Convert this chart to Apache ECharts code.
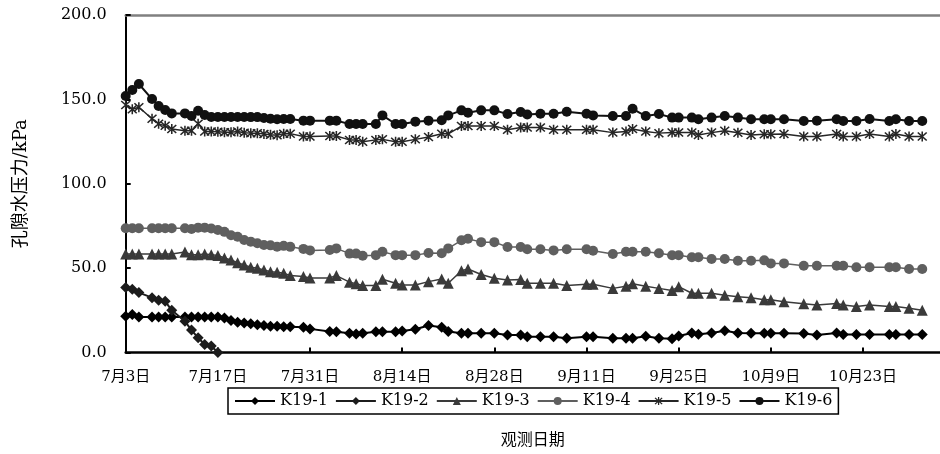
<!DOCTYPE html>
<html><head><meta charset="utf-8">
<script src="https://cdn.jsdelivr.net/npm/echarts@6/dist/echarts.min.js"></script>
<style>html,body{margin:0;padding:0;background:#fff}#c{width:940px;height:454px}</style>
</head><body><div id="c"></div>
<script>
// observation days, counted from 7月3日
const days = [0,1,2,4,5,6,7,
  9,10,11,12,13,14,15,16,17,18,19,20,21,22,23,24,25,
  27,28,31,32,34,35,36,38,39,41,42,44,46,48,49,51,52,54,56,58,60,61,63,65,67,70,71,74,
  76,77,79,81,83,84,86,87,89,91,93,95,97,98,100,103,105,108,109,111,113,116,117,119,121];
const xTickLabels = ['7月3日','7月17日','7月31日','8月14日','8月28日','9月11日','9月25日','10月9日','10月23日'];
const yTickLabels = ['0.0','50.0','100.0','150.0','200.0'];
const seriesNames = ['K19-1','K19-2','K19-3','K19-4','K19-5','K19-6'];

const k19_1 = [21.5,22.5,21.0,21.0,21.0,21.0,21.0,
  21.0,21.0,21.0,21.0,21.0,21.0,20.5,19.0,18.0,17.5,17.0,16.5,16.0,15.5,15.5,15.3,15.2,
  15.0,14.0,12.5,12.3,11.4,11.0,11.4,12.3,12.3,12.3,12.8,13.8,16.0,14.9,12.5,11.4,11.4,11.4,11.4,10.4,10.4,9.4,9.4,9.4,8.4,9.4,9.4,8.4,
  8.4,8.4,9.6,8.4,8.2,9.8,11.5,10.8,11.5,12.9,11.5,11.4,11.4,11.4,11.4,11.2,10.4,11.5,10.6,10.6,10.6,10.6,10.6,10.6,10.6];
const k19_2 = [38.5,37.5,35.5,32.5,31.0,30.3,25.0,
  18.5,13.3,8.7,4.7,3.8,0.0];
const k19_3 = [58.4,58.4,58.4,58.4,58.4,58.4,58.4,
  59.5,58.0,58.0,58.4,58.0,57.5,56.0,54.8,53.2,51.9,50.5,49.9,48.9,47.9,47.5,46.9,45.6,
  45.0,44.2,44.2,45.6,41.7,40.8,39.7,39.7,43.4,41.0,40.0,40.0,42.0,43.5,41.0,48.4,49.5,46.2,44.0,43.0,43.2,41.0,41.0,41.0,39.7,40.5,40.5,38.0,
  39.2,40.8,39.2,38.0,36.8,39.0,35.1,35.1,35.1,33.9,33.1,32.4,31.3,31.2,30.1,28.9,28.1,29.1,28.1,27.2,28.1,27.2,27.2,26.2,25.0];
const k19_4 = [73.6,73.6,73.6,73.6,73.6,73.6,73.6,
  73.6,73.2,74.0,74.0,73.5,72.6,71.5,69.5,68.6,66.7,65.7,64.7,63.7,63.5,62.7,63.2,62.6,
  61.4,60.5,60.7,61.7,58.6,58.6,57.3,57.7,59.7,57.7,57.7,57.7,59.0,58.8,61.7,66.5,67.4,65.4,65.4,62.5,62.5,61.2,61.2,60.5,61.2,61.2,60.3,58.4,
  59.7,59.7,59.7,58.8,57.6,57.6,56.4,56.4,55.4,55.4,54.4,54.4,54.6,52.8,52.8,51.4,51.4,51.4,51.4,50.5,50.5,50.5,50.5,49.5,49.5];
const k19_5 = [146.7,144.1,145.3,138.5,135.5,134.3,132.5,
  131.4,131.4,135.5,131.0,131.0,130.8,130.5,130.5,131.0,130.2,130.0,130.0,129.5,129.0,128.8,129.7,129.7,
  128.0,128.0,128.3,128.3,126.0,126.0,124.9,126.0,126.3,124.9,124.9,126.3,127.7,129.6,129.6,134.2,134.2,134.2,134.2,132.0,133.4,133.4,133.4,132.0,132.0,132.0,132.0,130.3,
  131.0,132.5,130.9,130.0,130.3,130.3,130.3,128.9,130.3,131.4,130.2,128.9,129.4,129.4,129.5,128.0,128.0,129.5,128.0,128.0,129.5,128.0,129.5,128.0,128.0];
const k19_6 = [152.0,155.6,159.1,150.2,146.1,143.7,141.7,
  141.7,140.1,143.3,140.7,139.6,139.6,139.6,139.6,139.6,139.6,139.5,139.5,139.0,138.5,138.2,138.4,138.4,
  137.4,137.4,137.4,137.4,135.4,135.4,135.4,135.4,140.5,135.4,135.4,136.8,137.4,137.6,140.5,143.5,142.1,143.5,143.5,141.3,142.5,141.0,141.5,141.5,142.7,141.5,140.5,140.1,
  140.1,144.4,140.1,141.3,139.2,139.2,139.2,138.2,139.2,140.2,139.2,138.2,138.2,138.2,138.2,137.2,137.4,138.2,137.2,137.2,138.4,137.2,138.2,137.2,137.2];

const allValues = [k19_1,k19_2,k19_3,k19_4,k19_5,k19_6];
const pair = vals => vals.map((v,i) => [days[i], v]);

const starPath = 'path://M43 0L57 0L57 100L43 100Z M5 15L15 5L95 85L85 95Z M85 5L95 15L15 95L5 85Z';
const styles = [
  {symbol:'diamond', size:11, color:'#000000', lw:2},
  {symbol:'diamond', size:11, color:'#1c1c1c', lw:2},
  {symbol:'triangle', size:11, color:'#3a3a3a', lw:1.5},
  {symbol:'circle', size:10, color:'#5f5f5f', lw:1.5},
  {symbol:starPath, size:10, color:'#262626', lw:1.5},
  {symbol:'circle', size:10, color:'#111111', lw:2}
];

const FONT = '"DejaVu Serif", "Noto Sans CJK SC", serif';
const chart = echarts.init(document.getElementById('c'), null, {renderer:'canvas'});
chart.setOption({
  animation:false,
  backgroundColor:'#ffffff',
  grid:{left:125.7, top:15, right:0, bottom:101.5, containLabel:false},
  legend:{
    left:228, top:388,
    data:seriesNames,
    itemWidth:40, itemHeight:10, itemGap:7,
    padding:[5,6],
    borderColor:'#000', borderWidth:1.5,
    textStyle:{fontFamily:FONT, fontSize:16, color:'#000'}
  },
  xAxis:[{
    type:'value', min:0, max:123.7, interval:14,
    name:'观测日期', nameLocation:'middle', nameGap:80,
    nameTextStyle:{fontFamily:FONT, fontSize:16, color:'#000'},
    axisLine:{lineStyle:{color:'#000', width:2.5}},
    axisTick:{inside:true, length:5, lineStyle:{color:'#000', width:2}},
    axisLabel:{
      margin:17, fontFamily:FONT, fontSize:15, color:'#000', showMaxLabel:false,
      formatter: v => { const i = Math.round(v/14); return Math.abs(v - i*14) < 1e-6 ? (xTickLabels[i] || '') : ''; }
    },
    splitLine:{show:false}
  },{
    type:'value', position:'top', min:0, max:123.7,
    axisLine:{show:true, lineStyle:{color:'#808080', width:2.5}},
    axisTick:{show:false}, axisLabel:{show:false}, splitLine:{show:false}
  }],
  yAxis:{
    type:'value', min:0, max:200, interval:50,
    name:'孔隙水压力/kPa', nameLocation:'middle', nameGap:95,
    nameTextStyle:{fontFamily:FONT, fontSize:18, color:'#000'},
    axisLine:{show:true, lineStyle:{color:'#000', width:2}},
    axisTick:{inside:true, length:5, lineStyle:{color:'#000', width:2}},
    axisLabel:{margin:19, fontFamily:FONT, fontSize:16, color:'#000',
      formatter: v => yTickLabels[Math.round(v/50)] || ''},
    splitLine:{show:false}
  },
  series: seriesNames.map((n,i) => ({
    name:n, type:'line', xAxisIndex:0,
    data:pair(allValues[i]),
    symbol:styles[i].symbol, symbolSize:styles[i].size,
    showAllSymbol:true,
    lineStyle:{color:styles[i].color, width:styles[i].lw},
    itemStyle:{color:styles[i].color, borderWidth:0},
    z: 2 + i,
    clip:false
  }))
});
</script></body></html>
